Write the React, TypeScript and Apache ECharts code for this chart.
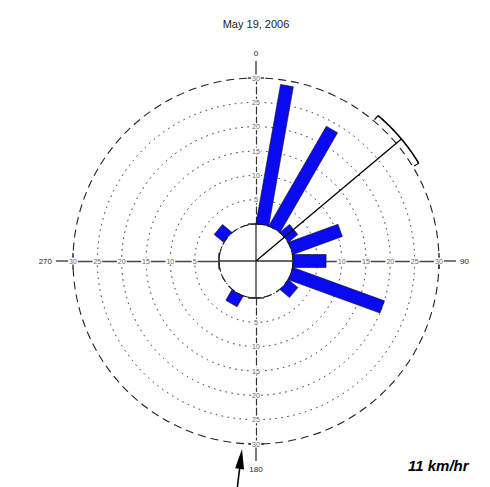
import React, { useEffect, useRef } from "react";
import * as echarts from "echarts";

// ---- data ----
const TITLE = "May 19, 2006";
const DIRECTIONS = [10, 30, 50, 70, 90, 110, 130, 210, 310]; // degrees, clockwise from north
const SPEEDS = [29, 23.6, 2.5, 10.8, 6.8, 20, 2.5, 2.5, 2.5]; // bar lengths (radial units)
const RADIUS_MIN = 0;
const RADIUS_MAX = 30;
const RADIUS_STEP = 5;
const DIRECTION_LABEL_STEP = 90;
const MEAN_DIRECTION = 50;
const MEAN_SPREAD = [40, 59];
const MEAN_MARK_RADIUS = 31.4;
const SPEED_NOTE = "11 km/hr";

// ---- layout ----
const W = 490;
const H = 487;
const CX = 256;
const CY = 261;
const R0 = 37;
const R1 = 183;

export default function App() {
  const ref = useRef<HTMLDivElement>(null);

  useEffect(() => {
    if (!ref.current) return;
    const chart = echarts.init(ref.current, undefined, { renderer: "svg" });

    const startAngles = [90, 0, 270, 180];
    const vertical = [true, false, true, false];

    const polar = startAngles.map(() => ({ center: [CX, CY], radius: [R0, R1] }));

    const angleAxis = startAngles.map((sa, i) => ({
      polarIndex: i,
      type: "value",
      min: 0,
      max: 360,
      interval: DIRECTION_LABEL_STEP,
      startAngle: sa,
      clockwise: true,
      axisLine:
        i === 0
          ? { show: true, lineStyle: { color: "#222", width: 1.1, type: [8, 5] } }
          : { show: false },
      axisTick: { show: false },
      splitLine: { show: false },
      axisLabel:
        i === 0
          ? {
              show: true,
              margin: 21,
              fontSize: 8,
              color: "#222",
              fontFamily: "Liberation Sans, Arial, sans-serif",
              formatter: (v: number) => (v === 360 ? "" : String(v)),
            }
          : { show: false },
    }));

    const ringColors0 = ["rgba(0,0,0,0)", "#222", "#222", "#222", "#222", "#222", "rgba(0,0,0,0)"];
    const ringColors1 = ["#222", "rgba(0,0,0,0)", "rgba(0,0,0,0)", "rgba(0,0,0,0)", "rgba(0,0,0,0)", "rgba(0,0,0,0)", "rgba(0,0,0,0)"];

    const radiusAxis = startAngles.map((_, i) => ({
      polarIndex: i,
      type: "value",
      min: RADIUS_MIN,
      max: RADIUS_MAX,
      interval: RADIUS_STEP,
      axisLine: {
        show: true,
        lineStyle: vertical[i]
          ? { color: "#333", width: 1.2, type: [7, 3] }
          : { color: "#444", width: 1.3, type: "solid" },
      },
      axisTick: { show: false },
      axisLabel: {
        show: true,
        margin: 0,
        align: "center",
        verticalAlign: "middle",
        fontSize: 7,
        color: "#666",
        backgroundColor: "#fff",
        padding: [0, 1],
        fontFamily: "Liberation Sans, Arial, sans-serif",
        formatter: (v: number) => (v === 0 ? "" : String(v)),
      },
      splitLine:
        i === 0
          ? { show: true, lineStyle: { color: ringColors0, width: 1, type: [1.5, 4.5] } }
          : i === 1
          ? { show: true, lineStyle: { color: ringColors1, width: 1, type: [5, 2, 1.5, 2] } }
          : { show: false },
    }));

    // crosshair pieces inside the calm circle and beyond the outer ring, plus ticks
    const dirs = [
      [0, -1],
      [1, 0],
      [0, 1],
      [-1, 0],
    ];
    const cross: any[] = [];
    dirs.forEach(([dx, dy]) => {
      const st = { stroke: "#333", lineWidth: 1.3 };
      cross.push({
        type: "line",
        shape: { x1: CX, y1: CY, x2: CX + dx * R0, y2: CY + dy * R0 },
        style: st,
      });
      cross.push({
        type: "line",
        shape: { x1: CX + dx * R1, y1: CY + dy * R1, x2: CX + dx * 200, y2: CY + dy * 200 },
        style: st,
      });
      [R0, R1].forEach((r) => {
        const px = CX + dx * r;
        const py = CY + dy * r;
        cross.push({
          type: "line",
          shape: { x1: px - dy * 8, y1: py - dx * 8, x2: px + dy * 8, y2: py + dx * 8 },
          style: { stroke: "#222", lineWidth: 1.3 },
        });
      });
    });

    // arrow at the bottom (annotation)
    const tip = [242, 449];
    const tail = [237, 490];
    const len = Math.hypot(tip[0] - tail[0], tip[1] - tail[1]);
    const ux = (tip[0] - tail[0]) / len;
    const uy = (tip[1] - tail[1]) / len;
    const bx = tip[0] - ux * 20;
    const by = tip[1] - uy * 20;
    const nx = -uy;
    const ny = ux;

    const option: any = {
      animation: false,
      polar,
      angleAxis,
      radiusAxis,
      graphic: [
        {
          type: "text",
          x: CX,
          y: 24,
          style: {
            text: TITLE,
            textAlign: "center",
            textVerticalAlign: "middle",
            font: "11px 'Liberation Sans', Arial, sans-serif",
            fill: "#222",
          },
        },
        ...cross,
        {
          type: "line",
          shape: { x1: tail[0], y1: tail[1], x2: bx, y2: by },
          style: { stroke: "#000", lineWidth: 1.6 },
        },
        {
          type: "polygon",
          shape: {
            points: [
              [tip[0], tip[1]],
              [bx + nx * 4.5, by + ny * 4.5],
              [bx - nx * 4.5, by - ny * 4.5],
            ],
          },
          style: { fill: "#000" },
        },
        {
          type: "text",
          x: 408,
          y: 465,
          style: {
            text: SPEED_NOTE,
            textAlign: "left",
            textVerticalAlign: "middle",
            font: "italic bold 15px 'Liberation Sans', Arial, sans-serif",
            fill: "#000",
          },
        },
      ],
      series: [
        {
          type: "custom",
          coordinateSystem: "polar",
          polarIndex: 0,
          z: 5,
          encode: { radius: 0, angle: 1 },
          data: SPEEDS.map((s, i) => [s, DIRECTIONS[i]]),
          renderItem: (params: any, api: any) => {
            const v = api.value(0);
            const a = api.value(1);
            const p0 = api.coord([0, a]);
            const p1 = api.coord([v, a]);
            const L = Math.hypot(p1[0] - p0[0], p1[1] - p0[1]) || 1;
            const dx = (p1[0] - p0[0]) / L;
            const dy = (p1[1] - p0[1]) / L;
            const w = 6.5;
            const qx = -dy * w;
            const qy = dx * w;
            return {
              type: "polygon",
              shape: {
                points: [
                  [p0[0] + qx, p0[1] + qy],
                  [p1[0] + qx, p1[1] + qy],
                  [p1[0] - qx, p1[1] - qy],
                  [p0[0] - qx, p0[1] - qy],
                ],
              },
              style: { fill: "#0a0af2", stroke: "#111", lineWidth: 0.6 },
            };
          },
        },
        {
          type: "custom",
          coordinateSystem: "polar",
          polarIndex: 0,
          z: 6,
          encode: { radius: 0, angle: 1 },
          data: [[MEAN_MARK_RADIUS, MEAN_DIRECTION, MEAN_SPREAD[0], MEAN_SPREAD[1]]],
          renderItem: (params: any, api: any) => {
            const r = api.value(0);
            const m = api.value(1);
            const lo = api.value(2);
            const hi = api.value(3);
            const cs = params.coordSys;
            const end = api.coord([r, m]);
            const pts: number[][] = [];
            for (let a = lo; a <= hi + 1e-6; a += 0.5) pts.push(api.coord([r, a]));
            const lo0 = api.coord([r, lo]);
            const lo1 = api.coord([r - 1.1, lo]);
            const hi0 = api.coord([r, hi]);
            const hi1 = api.coord([r - 1.1, hi]);
            const st = { stroke: "#000", lineWidth: 1.3, fill: "none" };
            return {
              type: "group",
              children: [
                { type: "line", shape: { x1: cs.cx, y1: cs.cy, x2: end[0], y2: end[1] }, style: st },
                { type: "polyline", shape: { points: pts }, style: { ...st, lineWidth: 1.6 } },
                { type: "line", shape: { x1: lo0[0], y1: lo0[1], x2: lo1[0], y2: lo1[1] }, style: st },
                { type: "line", shape: { x1: hi0[0], y1: hi0[1], x2: hi1[0], y2: hi1[1] }, style: st },
              ],
            };
          },
        },
      ],
    };

    chart.setOption(option);
    return () => chart.dispose();
  }, []);

  return (
    <div
      ref={ref}
      style={{ position: "absolute", left: 0, top: 0, width: W, height: H, background: "#fff" }}
    />
  );
}
